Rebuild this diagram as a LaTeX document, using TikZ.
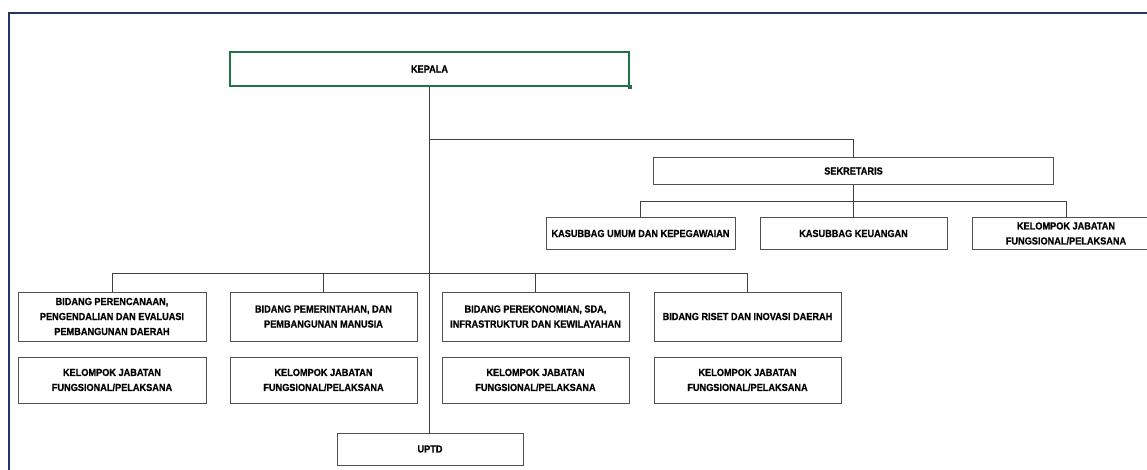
\documentclass[tikz,border=0pt]{standalone}
\usepackage{fontspec}
\setmainfont{Liberation Sans}[FakeStretch=0.9,BoldFeatures={FakeBold=0.8}]
\definecolor{framenavy}{HTML}{1F3864}
\definecolor{selgreen}{HTML}{217346}
\definecolor{boxgray}{HTML}{505050}
\definecolor{linegray}{HTML}{404040}
\begin{document}
\begin{tikzpicture}[x=1pt,y=-1pt,
						every node/.style = {font=\fontsize{10.2}{15}\selectfont\bfseries, align=center, inner sep=0pt},
						unit/.style = {draw=boxgray, line width=1pt, minimum width=#1},
						link/.style = {draw=linegray, line width=0.8pt}]

					\useasboundingbox (0,0) rectangle (1147,470);
					\draw[framenavy,line width=2pt] (9,475) -- (9,13) -- (1150,13);

					\node[unit=399,draw=selgreen,line width=1.4pt,minimum height=34] (kepala) at (429.5,69) {KEPALA};
					\fill[selgreen] ([shift={(-2,-2)}]kepala.south east) rectangle ++(4,4);

					\node[unit=400,minimum height=26.5] (sekretaris) at (853.5,171) {SEKRETARIS};
					\node[unit=189,minimum height=31.5] (umum) at (640.5,233.5) {KASUBBAG UMUM DAN KEPEGAWAIAN};
					\node[unit=187,minimum height=31.5] (keuangan) at (853.5,233.5) {KASUBBAG KEUANGAN};
					\node[unit=188,minimum height=31.5] (kjsek) at (1066,233.5) {KELOMPOK JABATAN\\FUNGSIONAL/PELAKSANA};

					\node[unit=188,minimum height=49] (perencanaan) at (112,316.5) {BIDANG PERENCANAAN,\\PENGENDALIAN DAN EVALUASI\\PEMBANGUNAN DAERAH};
					\node[unit=187,minimum height=49] (pemerintahan) at (323.5,316.5) {BIDANG PEMERINTAHAN, DAN\\PEMBANGUNAN MANUSIA};
					\node[unit=187,minimum height=49] (perekonomian) at (535.5,316.5) {BIDANG PEREKONOMIAN, SDA,\\INFRASTRUKTUR DAN KEWILAYAHAN};
					\node[unit=187,minimum height=49] (riset) at (747.5,316.5) {BIDANG RISET DAN INOVASI DAERAH};

					\node[unit=188,minimum height=46] (kjperencanaan) at (112,380) {KELOMPOK JABATAN\\FUNGSIONAL/PELAKSANA};
					\node[unit=187,minimum height=46] (kjpemerintahan) at (323.5,380) {KELOMPOK JABATAN\\FUNGSIONAL/PELAKSANA};
					\node[unit=187,minimum height=46] (kjperekonomian) at (535.5,380) {KELOMPOK JABATAN\\FUNGSIONAL/PELAKSANA};
					\node[unit=187,minimum height=46] (kjriset) at (747.5,380) {KELOMPOK JABATAN\\FUNGSIONAL/PELAKSANA};

					\node[unit=186,minimum height=32] (uptd) at (430,449) {UPTD};

					\coordinate (sekbus) at (429.5,139);
					\coordinate (subbus) at (0,201);
					\coordinate (bidbus) at (0,273);

					\draw[link] (kepala.south) -- (kepala.south |- uptd.north);
					\draw[link] (sekbus) -| (sekretaris.north);
					\draw[link] (sekretaris.south) -- (keuangan.north);
					\draw[link] (umum.north) |- (umum.north |- subbus) -| (kjsek.north);
					\draw[link] (perencanaan.north) |- (perencanaan.north |- bidbus) -| (riset.north);
					\draw[link] (pemerintahan.north) -- (pemerintahan.north |- bidbus);
					\draw[link] (perekonomian.north) -- (perekonomian.north |- bidbus);

				\end{tikzpicture}
\end{document}
